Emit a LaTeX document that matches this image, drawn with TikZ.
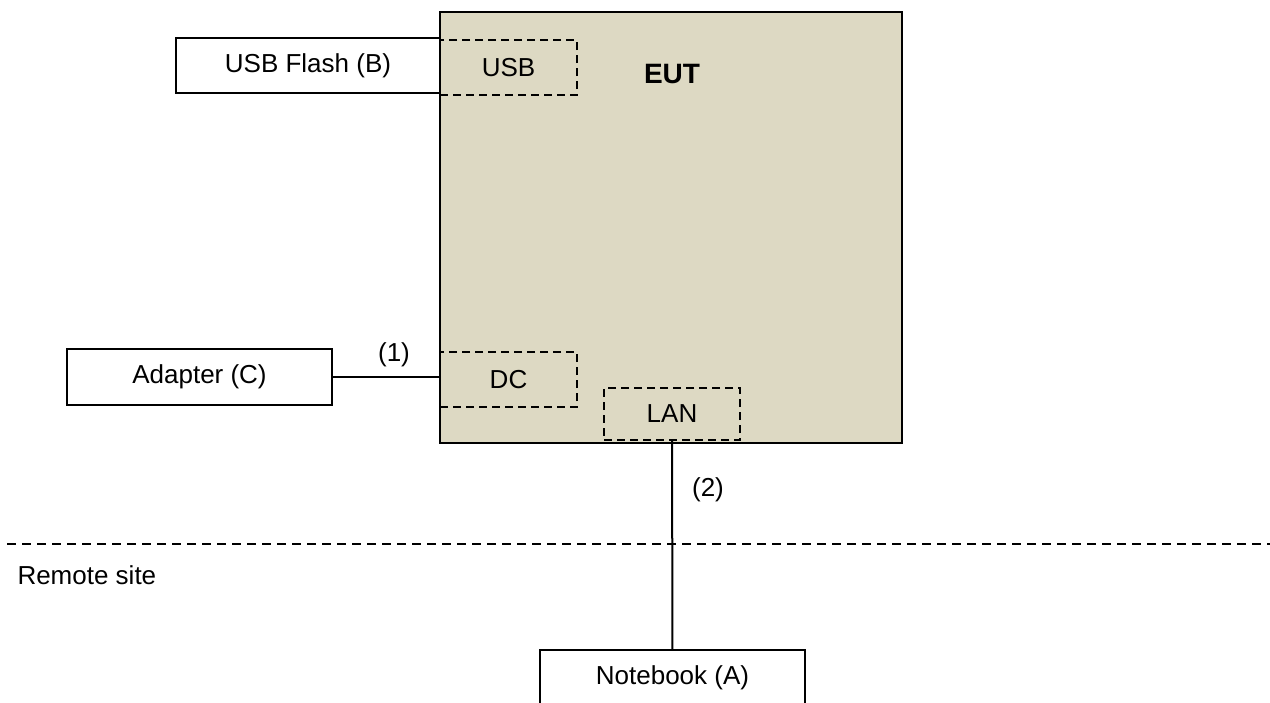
\documentclass[tikz,border=0pt]{standalone}
\usepackage{fontspec}
\setmainfont{Liberation Sans}
\definecolor{eutbg}{HTML}{DDD9C3}
\usepackage{tikz}
\usetikzlibrary{positioning}
\tikzset{
  devbox/.style={rectangle, draw=black, line width=0.8pt, fill=white,
    font=\fontsize{10.4}{12}\selectfont, inner sep=0pt,
    minimum width=106pt, minimum height=22.4pt},
  portbox/.style={rectangle, draw=black, line width=0.8pt,
    dash pattern=on 3.2pt off 2pt, font=\fontsize{10.4}{12}\selectfont,
    inner sep=0pt, minimum width=54.8pt, minimum height=22pt},
  link/.style={draw=black, line width=0.8pt},
  lbl/.style={font=\fontsize{10.4}{12}\selectfont, inner sep=0pt}
}

\begin{document}
\begin{tikzpicture}[x=0.4pt,y=-0.4pt]
  \useasboundingbox (0,0) rectangle (1270,702);
  % equipment under test
  \node[draw=black, line width=0.8pt, fill=eutbg, inner sep=0pt,
    minimum width=184.8pt, minimum height=172.4pt] (eut) at (671,227.5) {};
  \node[lbl, font=\fontsize{11.2}{13}\selectfont\bfseries] (eutlbl) at (672,74) {EUT};
  \node[portbox] (usb) at (508.5,67.5) {USB};
  \node[portbox] (dc) at (508.5,379.5) {DC};
  \node[portbox, minimum width=54.4pt, minimum height=20.8pt] (lan) at (672,414) {LAN};
  % peripherals
  \node[devbox, minimum width=105.6pt, minimum height=22pt] (flash) at (308,65.5) {USB Flash (B)};
  \node[devbox] (adapter) at (199.5,377) {Adapter (C)};
  \node[devbox] (notebook) at (672.5,678) {Notebook (A)};
  % cables
  \draw[link] (adapter.east) -- (adapter.east -| eut.west);
  \draw[link] (lan) -- (notebook);
  \node[lbl] (c1) at (394,355) {(1)};
  \node[lbl] (c2) at (708,490) {(2)};
  % remote site
  \draw[line width=0.8pt, dash pattern=on 3.6pt off 2.4pt] (7,544) -- (1270,544);
  \node[lbl, anchor=west] (remote) at (17,575) {Remote site};
\end{tikzpicture}
\end{document}
